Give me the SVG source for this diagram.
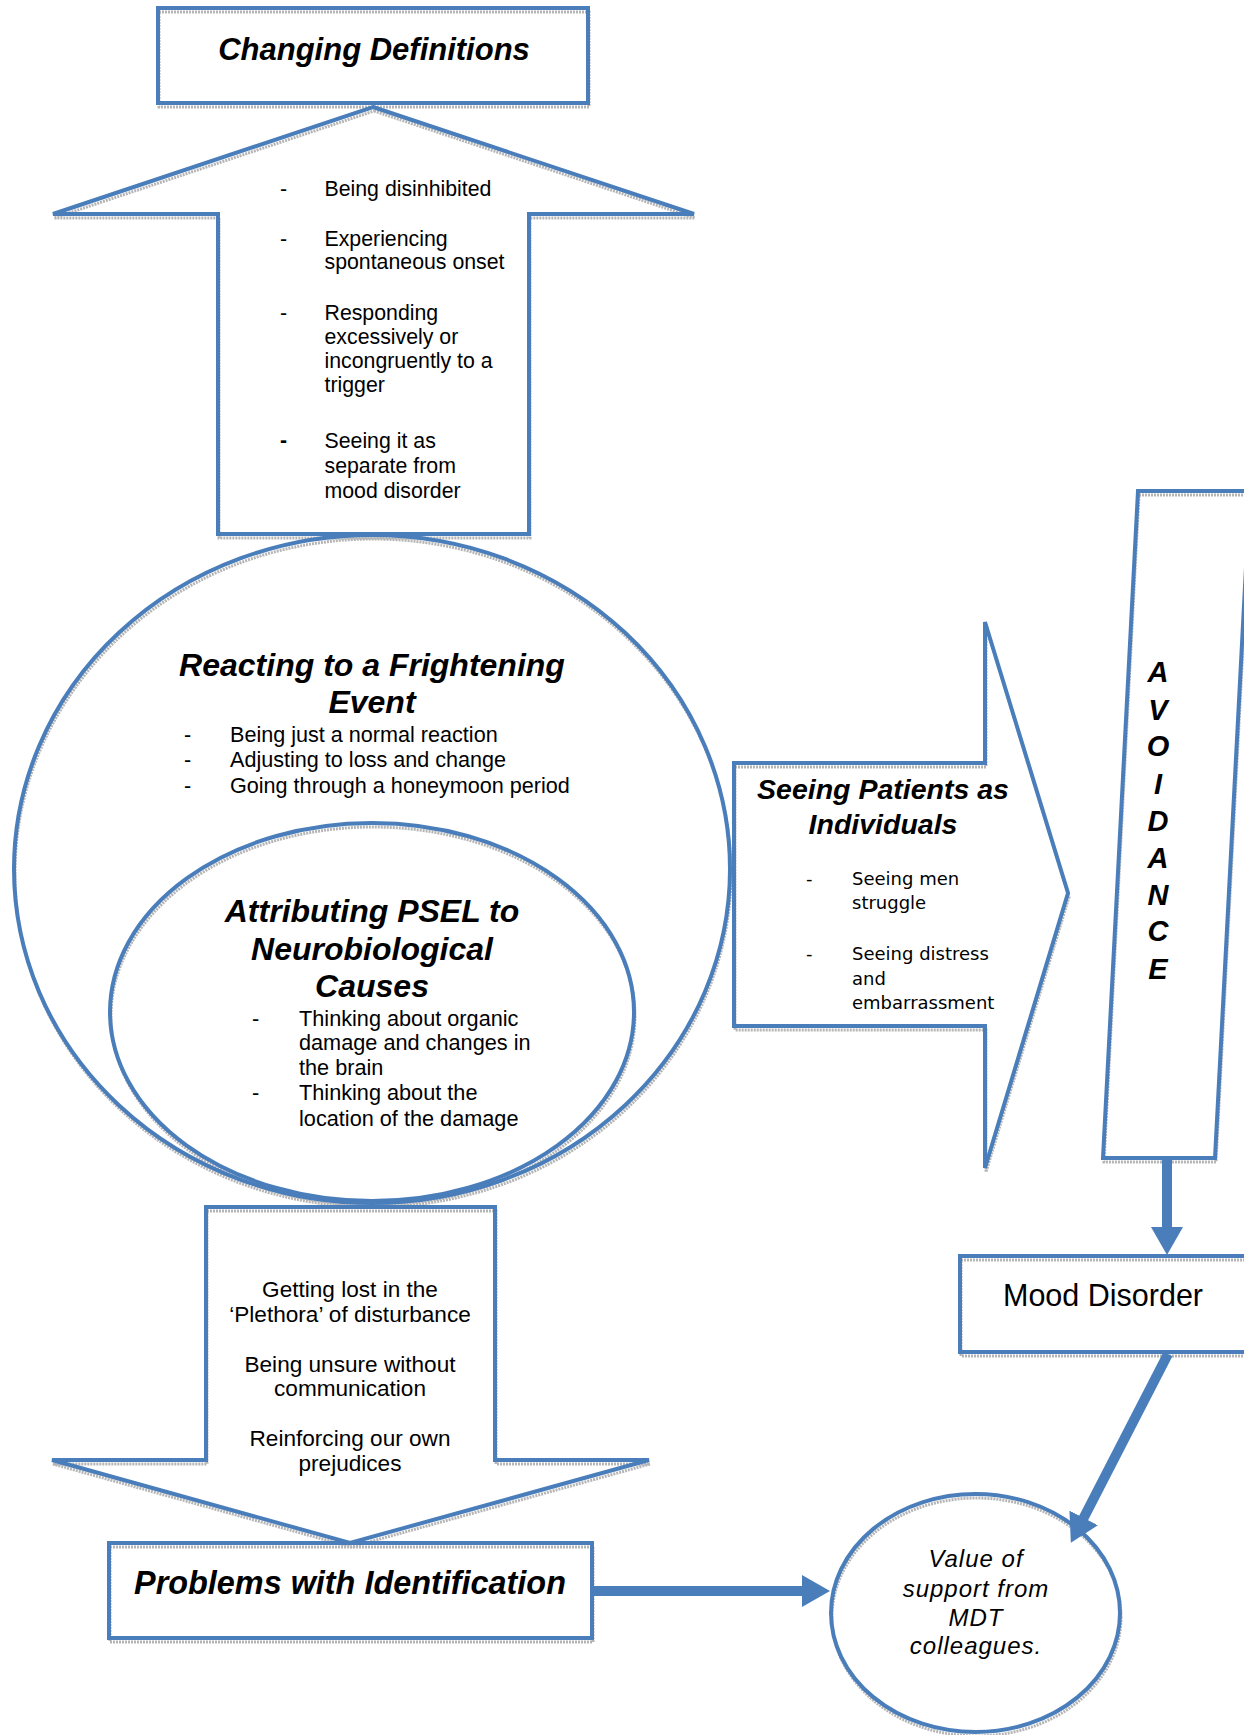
<svg xmlns="http://www.w3.org/2000/svg" width="1244" height="1735" viewBox="0 0 1244 1735">
<style>
.shape{fill:none;stroke:#4a7ebb;stroke-width:4;stroke-linejoin:miter}
.shadow{fill:none;stroke:#b5b5b5;stroke-width:3;stroke-dasharray:2 1}
.t{font-family:"Liberation Sans",Arial,sans-serif;font-size:21px;fill:#000}
.tc{text-anchor:middle}
.bi{font-family:"Liberation Sans",Arial,sans-serif;font-weight:bold;font-style:italic;fill:#000;text-anchor:middle}
.v{font-family:"DejaVu Sans",Verdana,sans-serif;font-size:18px;fill:#000}
.conn{fill:none;stroke:#4a7ebb;stroke-width:10}
</style>
<defs>
<marker id="head" markerUnits="userSpaceOnUse" markerWidth="28" markerHeight="32" refX="8" refY="16" orient="auto">
<path d="M0,0 L28,16 L0,32 z" fill="#4a7ebb"/>
</marker>
</defs>
<rect width="1244" height="1735" fill="#fff"/>

<g id="shadows" transform="translate(1,4)">
<rect class="shadow" x="158" y="8" width="430" height="95"/>
<polygon class="shadow" points="373,107 694,214 529,214 529,534 218,534 218,214 53,214"/>
<ellipse class="shadow" cx="372" cy="869" rx="358" ry="334"/>
<ellipse class="shadow" cx="372" cy="1012" rx="262" ry="189"/>
<polygon class="shadow" points="734,763 985,763 985,622 1068,893 985,1168 985,1026 734,1026"/>
<polygon class="shadow" points="1138,491 1250,491 1215,1158 1103,1158"/>
<rect class="shadow" x="960" y="1256" width="300" height="96"/>
<polygon class="shadow" points="206,1207 495,1207 495,1460 649,1460 350,1543 52,1460 206,1460"/>
<rect class="shadow" x="109" y="1543" width="483" height="95"/>
<ellipse class="shadow" cx="975.5" cy="1613" rx="144.5" ry="119"/>
</g>

<g id="changing-definitions">
<rect class="shape" x="158" y="8" width="430" height="95"/>
<text class="bi" x="374" y="60" style="font-size:31px">Changing Definitions</text>
</g>

<g id="definitions-arrow">
<polygon class="shape" points="373,107 694,214 529,214 529,534 218,534 218,214 53,214"/>
<g class="t" style="font-size:21.3px">
<text x="280" y="195.5">-</text><text x="324.5" y="195.5">Being disinhibited</text>
<text x="280" y="245.5">-</text><text x="324.5" y="245.5">Experiencing</text>
<text x="324.5" y="268.5">spontaneous onset</text>
<text x="280" y="319.5">-</text><text x="324.5" y="319.5">Responding</text>
<text x="324.5" y="343.5">excessively or</text>
<text x="324.5" y="367.5">incongruently to a</text>
<text x="324.5" y="392">trigger</text>
<text x="280" y="447" font-weight="bold">-</text><text x="324.5" y="448">Seeing it as</text>
<text x="324.5" y="472.5">separate from</text>
<text x="324.5" y="497.5">mood disorder</text>
</g>
</g>

<g id="reacting">
<ellipse class="shape" cx="372" cy="869" rx="358" ry="334"/>
<text class="bi" x="372" y="676" style="font-size:32px">Reacting to a Frightening</text>
<text class="bi" x="372" y="713" style="font-size:32px">Event</text>
<g class="t" style="font-size:21.6px">
<text x="184" y="742">-</text><text x="230" y="742">Being just a normal reaction</text>
<text x="184" y="767">-</text><text x="230" y="767">Adjusting to loss and change</text>
<text x="184" y="793">-</text><text x="230" y="793">Going through a honeymoon period</text>
</g>
</g>

<g id="attributing">
<ellipse class="shape" cx="372" cy="1012" rx="262" ry="189"/>
<text class="bi" x="372" y="922" style="font-size:32px">Attributing PSEL to</text>
<text class="bi" x="372" y="960" style="font-size:32px">Neurobiological</text>
<text class="bi" x="372" y="997" style="font-size:32px">Causes</text>
<g class="t" style="font-size:21.7px">
<text x="252" y="1026">-</text><text x="299" y="1026">Thinking about organic</text>
<text x="299" y="1050">damage and changes in</text>
<text x="299" y="1074.5">the brain</text>
<text x="252" y="1100">-</text><text x="299" y="1100">Thinking about the</text>
<text x="299" y="1126">location of the damage</text>
</g>
</g>

<g id="seeing-patients">
<polygon class="shape" points="734,763 985,763 985,622 1068,893 985,1168 985,1026 734,1026"/>
<text class="bi" x="883" y="799" style="font-size:28.5px">Seeing Patients as</text>
<text class="bi" x="883" y="833.5" style="font-size:28.5px">Individuals</text>
<g class="v">
<text x="806" y="885">-</text><text x="852" y="885">Seeing men</text>
<text x="852" y="909">struggle</text>
<text x="806" y="960">-</text><text x="852" y="960">Seeing distress</text>
<text x="852" y="985">and</text>
<text x="852" y="1009">embarrassment</text>
</g>
</g>

<g id="avoidance">
<polygon class="shape" points="1138,491 1250,491 1215,1158 1103,1158"/>
<g class="bi" style="font-size:29px">
<text x="1158" y="682">A</text>
<text x="1158" y="720">V</text>
<text x="1158" y="756">O</text>
<text x="1158" y="794">I</text>
<text x="1158" y="831">D</text>
<text x="1158" y="868">A</text>
<text x="1158" y="905">N</text>
<text x="1158" y="941">C</text>
<text x="1158" y="979">E</text>
</g>
</g>

<g id="mood-disorder">
<rect class="shape" x="960" y="1256" width="300" height="96"/>
<text x="1003" y="1306" font-family="Liberation Sans, Arial, sans-serif" font-size="30.5" fill="#000">Mood Disorder</text>
</g>

<g id="identification-arrow">
<polygon class="shape" points="206,1207 495,1207 495,1460 649,1460 350,1543 52,1460 206,1460"/>
<g class="t tc" style="font-size:22.6px">
<text x="350" y="1297">Getting lost in the</text>
<text x="350" y="1321.5">‘Plethora’ of disturbance</text>
<text x="350" y="1372">Being unsure without</text>
<text x="350" y="1395.5">communication</text>
<text x="350" y="1446">Reinforcing our own</text>
<text x="350" y="1470.5">prejudices</text>
</g>
</g>

<g id="problems">
<rect class="shape" x="109" y="1543" width="483" height="95"/>
<text class="bi" x="350" y="1594" style="font-size:32.4px">Problems with Identification</text>
</g>

<g id="value-support">
<ellipse class="shape" cx="975.5" cy="1613" rx="144.5" ry="119"/>
<g font-family="Liberation Sans, Arial, sans-serif" font-style="italic" font-size="24" letter-spacing="1" text-anchor="middle" fill="#000">
<text x="976" y="1567">Value of</text>
<text x="976" y="1597">support from</text>
<text x="976" y="1626">MDT</text>
<text x="976" y="1654">colleagues.</text>
</g>
</g>

<g id="connectors">
<path class="conn" d="M1167,1158 L1167,1235" marker-end="url(#head)"/>
<path class="conn" d="M1168,1354 L1080,1525" marker-end="url(#head)"/>
<path class="conn" d="M592,1591 L810,1591" marker-end="url(#head)"/>
</g>
</svg>
